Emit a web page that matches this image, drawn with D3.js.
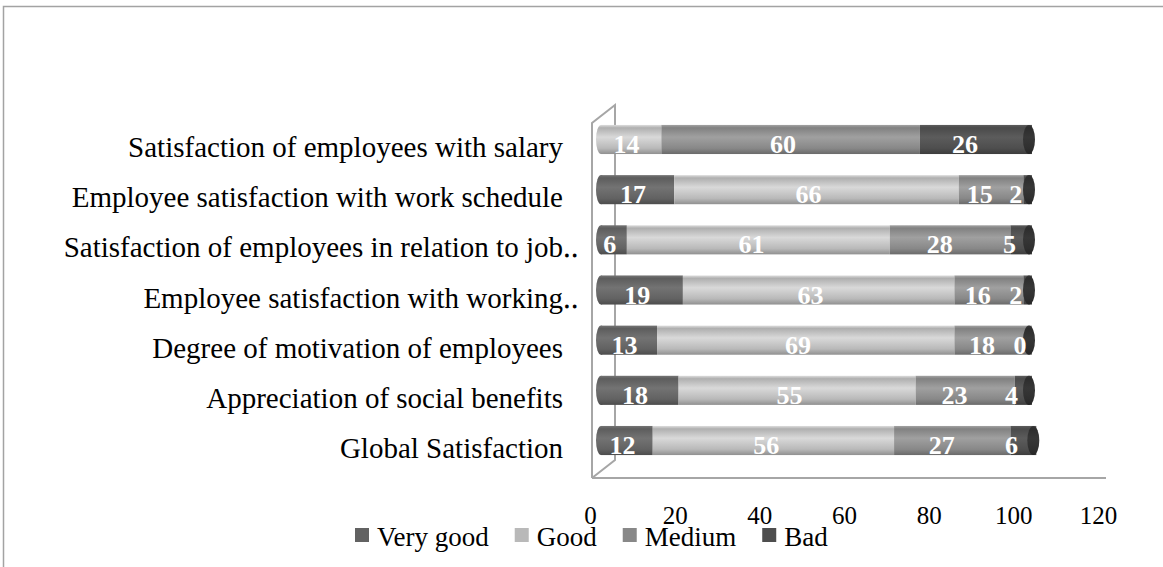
<!DOCTYPE html>
<html>
<head>
<meta charset="utf-8">
<script src="https://cdn.jsdelivr.net/npm/d3@7"></script>
<style>
    body { margin: 0; background: #fff; }
    svg text { font-family: "Liberation Serif", "Times New Roman", serif; }
</style>
</head>
<body>
<div id="chart"></div>
<script>
// categories, top to bottom as drawn
var categories = [
    "Satisfaction of employees with salary",
    "Employee satisfaction with work schedule",
    "Satisfaction of employees in relation to job‥",
    "Employee satisfaction with working‥",
    "Degree of motivation of employees",
    "Appreciation of social benefits",
    "Global Satisfaction"
];
var seriesNames = ["Very good", "Good", "Medium", "Bad"];
var veryGood = [null, 17, 6, 19, 13, 18, 12];
var good = [14, 66, 61, 63, 69, 55, 56];
var medium = [60, 15, 28, 16, 18, 23, 27];
var bad = [26, 2, 5, 2, 0, 4, 6];
var tickValues = [0, 20, 40, 60, 80, 100, 120];

var seriesColors = ["#626262", "#b9b9b9", "#888888", "#4e4e4e"];

class StackChart {
    constructor(width, height, selector) {
        this._width = width;
        this._height = height;
        this._selector = selector;
        this._cols = [veryGood, good, medium, bad];
    }

    render() {
        var that = this;
        this._svg = d3.select(that._selector)
            .append('svg')
            .attr('width', that._width)
            .attr('height', that._height);

        // outer frame (only top and left are visible in the picture)
        this._svg.append('path')
            .attr('d', `M3.5,${that._height} V6.5 H${that._width}`)
            .attr('fill', 'none')
            .attr('stroke', '#a3a3a3')
            .attr('stroke-width', 1.5);

        this._xScale = d3.scaleLinear().domain([0, 100]).range([599, 1030]);
        this._labelScale = d3.scaleLinear().domain([0, 100]).range([597, 1020]);
        this._tickScale = d3.scaleLinear().domain([0, 120]).range([590, 1098]);
        this._yScale = d3.scaleBand().domain(categories)
            .range([114.4, 465.6]).paddingInner(0.42).paddingOuter(0.21);

        this.drawWalls();
        this.makeGradients();
        this.drawBars();
        this.drawCategoryLabels();
        this.drawTicks();
        this.drawLegend();
    }

    drawWalls() {
        var x0 = 592, depth = 23, top = 123, floor = 478;
        var g = this._svg.append('g')
            .attr('fill', 'none')
            .attr('stroke', '#a6a6a6')
            .attr('stroke-width', 2);
        g.append('path')
            .attr('d', `M${x0},${floor} V${top} L${x0 + depth},${top - 18} V${floor - 18} L${x0},${floor}`);
        g.append('line')
            .attr('x1', x0).attr('x2', 1106)
            .attr('y1', floor).attr('y2', floor);
    }

    makeGradients() {
        var defs = this._svg.append('defs');
        var stops = [
            [0, c => c.brighter(0.5)],
            [0.1, c => c.darker(0.15)],
            [0.42, c => c.brighter(0.45)],
            [0.8, c => c],
            [1, c => c.darker(0.7)]
        ];
        seriesColors.concat(['#2f2f2f']).forEach((col, i) => {
            var grad = defs.append('linearGradient')
                .attr('id', 'grad' + i)
                .attr('x1', 0).attr('x2', 0).attr('y1', 0).attr('y2', 1);
            stops.forEach(s => {
                grad.append('stop')
                    .attr('offset', s[0])
                    .attr('stop-color', s[1](d3.color(col)).formatHex());
            });
        });
    }

    drawBars() {
        var that = this;
        var rows = categories.map((c, i) => {
            var r = { cat: c };
            seriesNames.forEach((s, k) => { r[s] = that._cols[k][i] || 0; });
            return r;
        });
        var stacked = d3.stack().keys(seriesNames)(rows);
        var bw = this._yScale.bandwidth();

        // left rounded ends, colour of the first visible segment
        this._svg.append('g').selectAll('ellipse').data(categories)
            .join('ellipse')
            .attr('cx', that._xScale(0) + 2)
            .attr('cy', d => that._yScale(d) + bw / 2)
            .attr('rx', 5)
            .attr('ry', bw / 2)
            .attr('fill', (d, i) => {
                var k = that._cols.findIndex(col => col[i]);
                return `url(#grad${k})`;
            });

        var segs = this._svg.append('g');
        stacked.forEach((layer, k) => {
            segs.append('g')
                .attr('fill', `url(#grad${k})`)
                .selectAll('rect').data(layer)
                .join('rect')
                .attr('x', d => that._xScale(d[0]) + 2)
                .attr('y', d => that._yScale(d.data.cat))
                .attr('width', d => Math.max(0, that._xScale(d[1]) - that._xScale(d[0])))
                .attr('height', bw);
        });

        // right cylinder caps
        var last = stacked[stacked.length - 1];
        this._svg.append('g').selectAll('ellipse').data(last)
            .join('ellipse')
            .attr('cx', d => that._xScale(d[1]) - 1)
            .attr('cy', d => that._yScale(d.data.cat) + bw / 2)
            .attr('rx', 6)
            .attr('ry', bw / 2)
            .attr('fill', 'url(#grad4)');

        // value labels
        var labels = this._svg.append('g')
            .attr('fill', '#fff')
            .attr('font-weight', 'bold')
            .attr('font-size', 26)
            .attr('text-anchor', 'middle');
        stacked.forEach((layer, k) => {
            labels.append('g').selectAll('text')
                .data(layer.filter((d, i) => that._cols[k][i] !== null))
                .join('text')
                .attr('x', d => that._labelScale((d[0] + d[1]) / 2))
                .attr('y', d => that._yScale(d.data.cat) + bw - 1)
                .text(d => d[1] - d[0]);
        });
    }

    drawCategoryLabels() {
        var that = this;
        var bw = this._yScale.bandwidth();
        var g = this._svg.append('g')
            .attr('font-size', 29)
            .attr('fill', '#000');
        categories.forEach(c => {
            var cut = c.endsWith('‥');
            var yy = that._yScale(c) + bw / 2 + 17.5;
            g.append('text')
                .attr('x', 563).attr('y', yy)
                .attr('text-anchor', 'end')
                .text(cut ? c.slice(0, -1) : c);
            if (cut) {
                g.append('text')
                    .attr('x', 563).attr('y', yy)
                    .text('‥');
            }
        });
    }

    drawTicks() {
        var that = this;
        var axis = this._svg.append('g')
            .attr('transform', 'translate(0,524)')
            .call(d3.axisBottom(that._tickScale).tickValues(tickValues).tickSize(0));
        axis.select('.domain').remove();
        axis.selectAll('text')
            .attr('y', 0).attr('dy', 0)
            .attr('fill', '#000')
            .attr('font-size', 25)
            .attr('font-family', '"Liberation Serif", "Times New Roman", serif');
    }

    drawLegend() {
        var g = this._svg.append('g')
            .attr('font-size', 27);
        var x = 355;
        seriesNames.forEach((s, i) => {
            g.append('rect')
                .attr('x', x).attr('y', 528)
                .attr('width', 14).attr('height', 14)
                .attr('fill', seriesColors[i]);
            var t = g.append('text')
                .attr('x', x + 22).attr('y', 546)
                .text(s);
            x += 22 + t.node().getComputedTextLength() + 26;
        });
    }
}

var chart = new StackChart(1163, 567, '#chart');
chart.render();
</script>
</body>
</html>
